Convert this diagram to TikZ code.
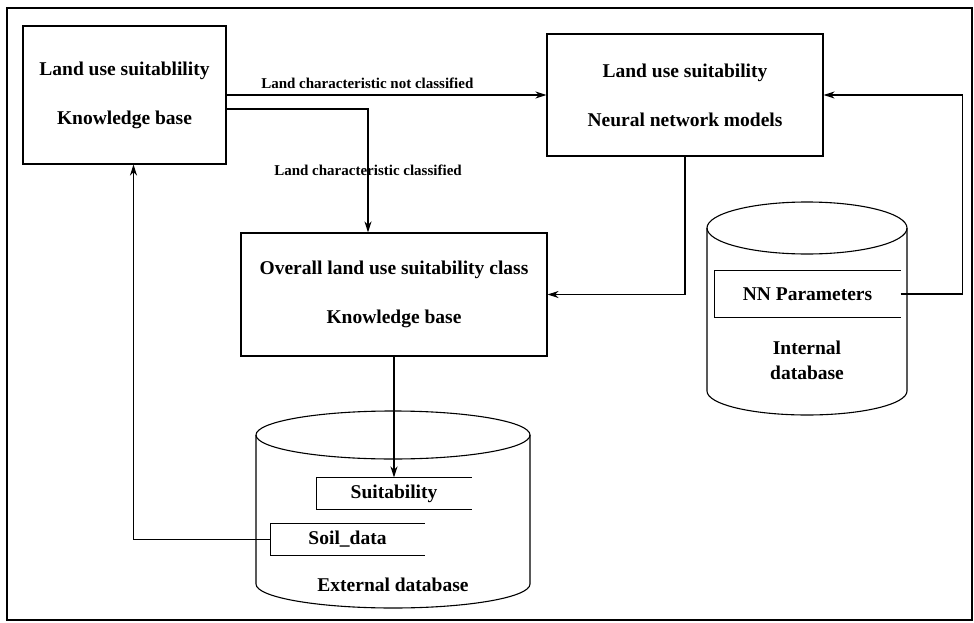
\documentclass[tikz,border=0pt]{standalone}
\usepackage{fontspec}
\setmainfont{Liberation Serif}
\usetikzlibrary{arrows.meta}

\begin{document}
\begin{tikzpicture}[x=1pt, y=-1pt, line width=1.1pt, >={Stealth[length=11pt,width=7pt]},
    box/.style={draw, inner sep=0pt, align=center, font=\bfseries\fontsize{19.5}{49}\selectfont},
    record/.style={inner sep=0pt, font=\bfseries\fontsize{19.5}{23}\selectfont},
    dbtext/.style={align=center, font=\bfseries\fontsize{19.5}{25}\selectfont},
    lbl/.style={font=\bfseries\fontsize{15}{17}\selectfont}]
    \useasboundingbox (0,0) rectangle (974,623);
    \draw[line width=2pt] (7,8) rectangle (972,620);

    \node[box, minimum width=203pt, minimum height=138pt] (kb) at (124.5,95)
        {Land use suitablility\\Knowledge base};
    \node[box, minimum width=276pt, minimum height=122pt] (nnm) at (685,95)
        {Land use suitability\\Neural network models};
    \node[box, minimum width=306pt, minimum height=123pt] (overall) at (394,294.5)
        {Overall land use suitability class\\Knowledge base};

    \begin{scope}
        \draw (393,435) ellipse [x radius=137, y radius=24];
        \draw (256,435) -- (256,584) arc [start angle=180, end angle=0, x radius=137, y radius=24] -- (530,435);
        \node[dbtext] (extdb) at (393,585) {External database};

        \node[record, minimum width=154pt, minimum height=31pt] (suit) at (394,493.5) {Suitability};
        \node[record, minimum width=153pt, minimum height=31pt] (soil) at (347.5,539.5) {Soil\_data};
        \draw (suit.north east) -- (suit.north west) -- (suit.south west) -- (suit.south east);
        \draw (soil.north east) -- (soil.north west) -- (soil.south west) -- (soil.south east);
    \end{scope}

    \begin{scope}
        \draw (807,228) ellipse [x radius=100, y radius=26];
        \draw (707,228) -- (707,391) arc [start angle=180, end angle=0, x radius=100, y radius=24] -- (907,228);
        \node[dbtext] (intdb) at (807,360) {Internal\\database};

        \node[record, minimum width=185pt, minimum height=46pt] (nnp) at (807.5,294) {NN Parameters};
        \draw (nnp.north east) -- (nnp.north west) -- (nnp.south west) -- (nnp.south east);
    \end{scope}

    \draw[->] (kb.east) -- (nnm.west)
        node[lbl, above=2pt, pos=0.44] {Land characteristic not classified};
    \draw[->] ([yshift=-14pt]kb.east) -| ([xshift=-26pt]overall.north)
        node[lbl, pos=0.75] {Land characteristic classified};
    \draw[->] (nnm.south) |- (overall.east);
    \draw[->] (nnp.east) -- ++(62,0) |- (nnm.east);
    \draw[->] (overall.south) -- (suit.north);
    \draw[->] (soil.west) -| ([xshift=9pt]kb.south);
\end{tikzpicture}
\end{document}
